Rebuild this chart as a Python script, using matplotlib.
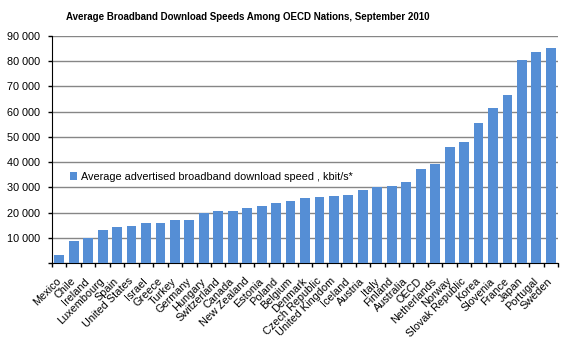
import matplotlib
matplotlib.use("Agg")
import matplotlib.pyplot as plt
import numpy as np

countries = ["Mexico", "Chile", "Ireland", "Luxembourg", "Spain", "United States", "Israel",
             "Greece", "Turkey", "Germany", "Hungary", "Switzerland", "Canada", "New Zealand",
             "Estonia", "Poland", "Belgium", "Denmark", "Czech Republic", "United Kingdom",
             "Iceland", "Austria", "Italy", "Finland", "Australia", "OECD", "Netherlands",
             "Norway", "Slovak Republic", "Korea", "Slovenia", "France", "Japan", "Portugal",
             "Sweden"]
speeds = [3000, 8900, 9900, 13100, 14300, 14700, 15850, 15900, 17000, 17100, 19950, 20600,
          20650, 21800, 22600, 23800, 24600, 25800, 26200, 26600, 27000, 29000, 29950, 30600,
          32200, 37300, 39300, 46000, 48000, 55600, 61600, 66700, 80500, 83700, 85300]
yticks = [0, 10000, 20000, 30000, 40000, 50000, 60000, 70000, 80000, 90000]
ytick_labels = ["", "10 000", "20 000", "30 000", "40 000", "50 000", "60 000", "70 000",
                "80 000", "90 000"]

plt.rcParams['font.family'] = ['Liberation Sans', 'DejaVu Sans']

fig = plt.figure(figsize=(5.69, 3.51), dpi=100)
ax = fig.add_axes([0.0914, 0.2507, 0.8893, 0.6467])

x = np.arange(len(countries))
ax.bar(x, speeds, width=0.68, color='#558ed5', zorder=3,
       label="Average advertised broadband download speed , kbit/s*")

ax.set_xlim(-0.5, len(countries) - 0.5)
ax.set_ylim(0, 90000)
ax.set_yticks(yticks)
ax.set_yticklabels(ytick_labels, fontsize=7.8)
ax.yaxis.grid(True, color='#868686', linewidth=1.0, zorder=0)
ax.set_axisbelow(True)

ax.set_xticks(x)
ax.set_xticklabels(countries, rotation=45, ha='right', va='center', rotation_mode='anchor',
                   fontsize=7.8)
ax.set_xticks(np.arange(len(countries) + 1) - 0.5, minor=True)
ax.tick_params(axis='x', which='major', length=0, pad=12)
ax.tick_params(axis='x', which='minor', length=3, width=1, color='black', direction='out')
ax.tick_params(axis='y', length=3, width=1, color='black', direction='out', pad=5.5)

for s in ['top', 'right']:
    ax.spines[s].set_visible(False)
ax.spines['left'].set_color('black')
ax.spines['bottom'].set_color('black')

ax.legend(loc='center left', bbox_to_anchor=(0.035, 0.379), frameon=False, fontsize=7.8,
          handlelength=0.7, handleheight=0.7, handletextpad=0.3, borderpad=0, borderaxespad=0)

fig.text(0.436, 0.951, "Average Broadband Download Speeds Among OECD Nations, September 2010",
         ha='center', va='center', fontsize=7.0, fontweight='bold')

fig.savefig("out.png", dpi=100)
